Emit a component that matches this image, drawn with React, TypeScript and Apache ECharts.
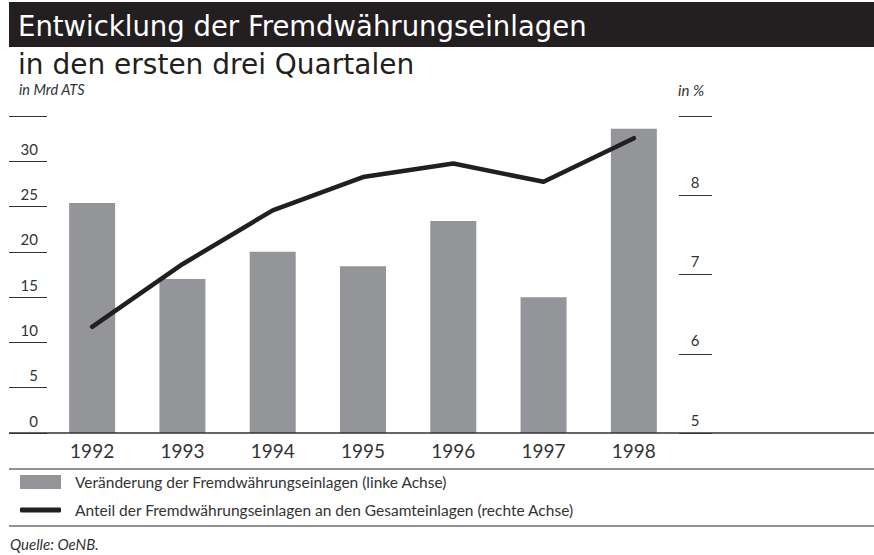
import React, { useEffect, useRef } from "react";
import * as echarts from "echarts";

const years = ["1992", "1993", "1994", "1995", "1996", "1997", "1998"];
const depositChange = [25.4, 17.0, 20.0, 18.4, 23.4, 15.0, 33.6];
const depositShare = [6.34, 7.13, 7.81, 8.23, 8.4, 8.17, 8.72];
const barName = "Veränderung der Fremdwährungseinlagen (linke Achse)";
const lineName = "Anteil der Fremdwährungseinlagen an den Gesamteinlagen (rechte Achse)";

const W = 874;
const H = 555;
const gridLeft = 47;
const gridRight = 679;
const gridTop = 116;
const gridBottom = 433;
const FONT = "Lato, 'Open Sans', sans-serif";
const TITLE_FONT = "'DejaVu Sans', Verdana, sans-serif";

export default function App() {
  const ref = useRef<HTMLDivElement>(null);
  useEffect(() => {
    if (!ref.current) return;
    const chart = echarts.init(ref.current, undefined, { renderer: "svg" });
    chart.setOption({
      animation: false,
      backgroundColor: "#ffffff",
      grid: {
        left: gridLeft,
        right: W - gridRight,
        top: gridTop,
        bottom: H - gridBottom,
        containLabel: false,
      },
      legend: [
        {
          data: [{ name: barName, icon: "rect" }],
          left: 20,
          top: 474,
          padding: 0,
          itemWidth: 41,
          itemHeight: 14,
          selectedMode: false,
          textStyle: { fontSize: 15.5, fontFamily: FONT, color: "#333", padding: [0, 0, 0, 9] },
        },
        {
          data: [{ name: lineName, icon: "roundRect" }],
          left: 20,
          top: 502,
          padding: 0,
          itemWidth: 41,
          itemHeight: 5,
          selectedMode: false,
          textStyle: { fontSize: 15.5, fontFamily: FONT, color: "#333", padding: [0, 0, 0, 9] },
        },
      ],
      xAxis: {
        type: "category",
        data: years,
        axisLine: { show: false },
        axisTick: { show: false },
        axisLabel: { fontSize: 19, fontFamily: FONT, color: "#333", margin: 8 },
      },
      yAxis: [
        {
          type: "value",
          min: 0,
          max: 35,
          interval: 5,
          position: "left",
          axisLine: { show: false },
          splitLine: { show: false },
          axisTick: { show: true, length: 38, lineStyle: { color: "#333", width: 1 } },
          axisLabel: {
            formatter: (v: number) => (v === 35 ? "" : String(v)),
            align: "right",
            margin: 9,
            verticalAlign: "bottom",
            padding: [0, 0, 5, 0],
            fontSize: 15,
            fontFamily: FONT,
            color: "#333",
          },
        },
        {
          type: "value",
          min: 5,
          max: 9,
          interval: 1,
          position: "right",
          axisLine: { show: false },
          splitLine: { show: false },
          axisTick: { show: true, length: 33, lineStyle: { color: "#333", width: 1 } },
          axisLabel: {
            formatter: (v: number) => (v === 9 ? "" : String(v)),
            align: "center",
            margin: 16,
            verticalAlign: "bottom",
            padding: [0, 0, 6, 0],
            fontSize: 15,
            fontFamily: FONT,
            color: "#333",
          },
        },
      ],
      series: [
        {
          name: barName,
          type: "bar",
          data: depositChange,
          yAxisIndex: 0,
          barWidth: 46,
          itemStyle: { color: "#939598" },
          z: 2,
        },
        {
          name: lineName,
          type: "line",
          data: depositShare,
          yAxisIndex: 1,
          showSymbol: false,
          symbol: "none",
          color: "#231f20",
          lineStyle: { width: 4.5, color: "#231f20", cap: "round", join: "round" },
          itemStyle: { color: "#231f20" },
          z: 3,
        },
      ],
      graphic: [
        { type: "rect", shape: { x: 9, y: 2, width: W - 9, height: 45 }, style: { fill: "#231f20" }, z: 0 },
        {
          type: "text",
          x: 18,
          y: 26,
          z: 10,
          style: {
            text: "Entwicklung der Fremdwährungseinlagen",
            fill: "#ffffff",
            font: `27.5px ${TITLE_FONT}`,
            verticalAlign: "middle",
          },
        },
        {
          type: "text",
          x: 18,
          y: 64,
          z: 10,
          style: {
            text: "in den ersten drei Quartalen",
            fill: "#231f20",
            font: `28px ${TITLE_FONT}`,
            verticalAlign: "middle",
          },
        },
        {
          type: "text",
          x: 19,
          y: 89,
          style: { text: "in Mrd ATS", fill: "#333", font: `italic 14.5px ${FONT}`, verticalAlign: "middle" },
        },
        {
          type: "text",
          x: 678,
          y: 90,
          style: { text: "in %", fill: "#333", font: `italic 15px ${FONT}`, verticalAlign: "middle" },
        },
        {
          type: "text",
          x: 10,
          y: 544,
          style: { text: "Quelle: OeNB.", fill: "#333", font: `italic 15px ${FONT}`, verticalAlign: "middle" },
        },
        { type: "line", shape: { x1: 9, y1: 433, x2: W, y2: 433 }, style: { stroke: "#333", lineWidth: 1.3 }, z: 5 },
        { type: "line", shape: { x1: 9, y1: 469, x2: W, y2: 469 }, style: { stroke: "#6d6e71", lineWidth: 1.5 } },
        { type: "line", shape: { x1: 9, y1: 526, x2: W, y2: 526 }, style: { stroke: "#6d6e71", lineWidth: 1.5 } },
      ],
    });
    return () => chart.dispose();
  }, []);
  return (
    <div
      ref={ref}
      style={{ position: "fixed", left: 0, top: 0, width: W, height: H, background: "#fff" }}
    />
  );
}
